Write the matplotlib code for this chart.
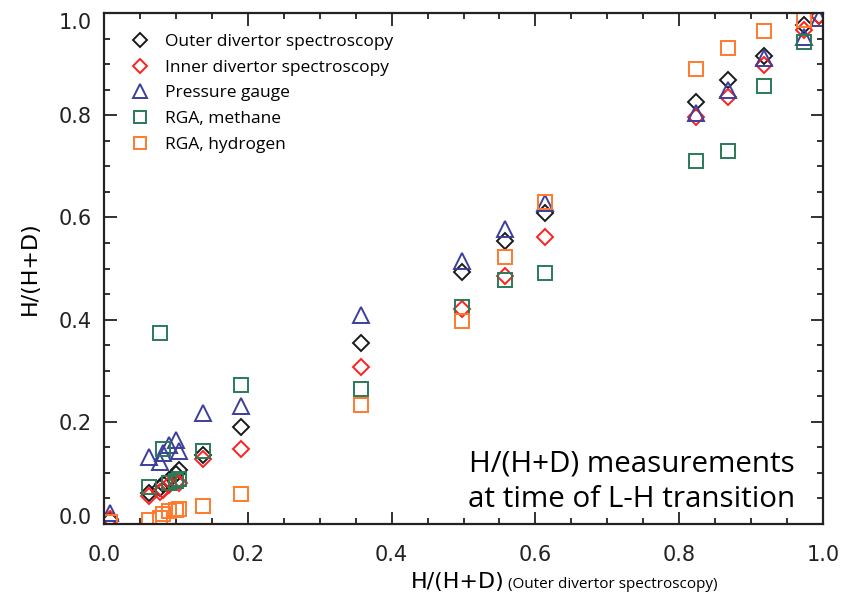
import matplotlib
matplotlib.use("Agg")
import numpy as np
import matplotlib.pyplot as plt
from matplotlib.ticker import MultipleLocator, FixedLocator, FormatStrFormatter

# H/(H+D) from outer divertor spectroscopy for each discharge (x axis)
shot_x = [0.008, 0.062, 0.078, 0.082, 0.090, 0.100, 0.104, 0.137, 0.190,
          0.357, 0.498, 0.558, 0.614, 0.823, 0.868, 0.918, 0.973, 0.995]

# H/(H+D) from each diagnostic at the L-H transition
outer = [0.008, 0.060, 0.070, 0.078, 0.086, 0.098, 0.106, 0.135, 0.190,
         0.355, 0.494, 0.554, 0.609, 0.826, 0.869, 0.915, 0.976, 0.995]
inner = [0.010, 0.055, 0.063, 0.067, 0.076, 0.083, 0.080, 0.127, 0.146,
         0.308, 0.421, 0.485, 0.562, 0.796, 0.836, 0.898, 0.967, 0.995]
pressure = [0.022, 0.132, 0.122, 0.139, 0.155, 0.164, 0.143, 0.217, 0.231,
            0.409, 0.515, 0.577, 0.628, 0.804, 0.849, 0.912, 0.954, 0.990]
rga_methane = [0.004, 0.072, 0.374, 0.147, 0.080, 0.084, 0.088, 0.143, 0.272,
               0.264, 0.425, 0.477, 0.492, 0.710, 0.729, 0.857, 0.944, np.nan]
rga_hydrogen = [0.004, 0.008, 0.012, 0.020, 0.025, 0.028, 0.030, 0.036, 0.058,
                0.233, 0.398, 0.523, 0.631, 0.890, 0.932, 0.965, 0.986, np.nan]

major_ticks = [0.0, 0.2, 0.4, 0.6, 0.8, 1.0]

series = [
    ("Outer divertor spectroscopy", outer, "D", "#1a1a1a", 8.0),
    ("Inner divertor spectroscopy", inner, "D", "#ff1f1f", 8.0),
    ("Pressure gauge", pressure, "^", "#3c3f9a", 12.0),
    ("RGA, methane", rga_methane, "s", "#2a7a58", 10.5),
    ("RGA, hydrogen", rga_hydrogen, "s", "#ff7a2e", 10.5),
]

fig = plt.figure(figsize=(8.47, 6.0), dpi=100)
ax = fig.add_axes([104 / 847, 76 / 600, 719 / 847, 511 / 600])

for label, yvals, marker, color, size in series:
    ax.plot(shot_x, yvals, linestyle="none", marker=marker, markersize=size,
            markerfacecolor="none", markeredgecolor=color, markeredgewidth=1.4,
            label=label)

ax.set_xlim(0, 1)
ax.set_ylim(0, 1)

ax.xaxis.set_major_locator(FixedLocator(major_ticks))
ax.xaxis.set_minor_locator(MultipleLocator(0.05))
ax.yaxis.set_major_locator(FixedLocator(major_ticks))
ax.yaxis.set_minor_locator(MultipleLocator(0.05))
ax.xaxis.set_major_formatter(FormatStrFormatter("%.1f"))
ax.yaxis.set_major_formatter(FormatStrFormatter("%.1f"))

ax.tick_params(which="both", direction="in", top=True, right=True,
               width=1.3, colors="#222222")
ax.tick_params(which="major", length=9)
ax.tick_params(which="minor", length=4.5)
ax.tick_params(axis="x", which="major", pad=15, labelsize=15)
ax.tick_params(axis="y", which="major", pad=9, labelsize=15)
for sp in ax.spines.values():
    sp.set_linewidth(1.6)
    sp.set_color("#222222")

# keep the end labels of the y axis inside the frame
yticks = ax.yaxis.get_major_ticks()
yticks[0].label1.set_verticalalignment("baseline")
yticks[-1].label1.set_verticalalignment("top")

ax.set_ylabel("H/(H+D)", fontsize=16, labelpad=13)
fig.text(0.596, 0.02, "H/(H+D)", fontsize=16, ha="right", va="baseline")
fig.text(0.600, 0.02, "(Outer divertor spectroscopy)", fontsize=11,
         family="Open Sans", ha="left", va="baseline")

leg = ax.legend(loc="upper left", bbox_to_anchor=(0.033, 0.966), frameon=False,
                prop={"family": "Open Sans", "size": 12.5}, markerscale=0.85,
                handlelength=1.0, handletextpad=0.95, labelspacing=0.55,
                borderpad=0.2, borderaxespad=0.0)

ax.text(0.734, 0.033, "H/(H+D) measurements\nat time of L-H transition",
        transform=ax.transAxes, ha="center", va="baseline", fontsize=21.3,
        family="Open Sans", linespacing=1.3)

fig.savefig("out.png", dpi=100)
